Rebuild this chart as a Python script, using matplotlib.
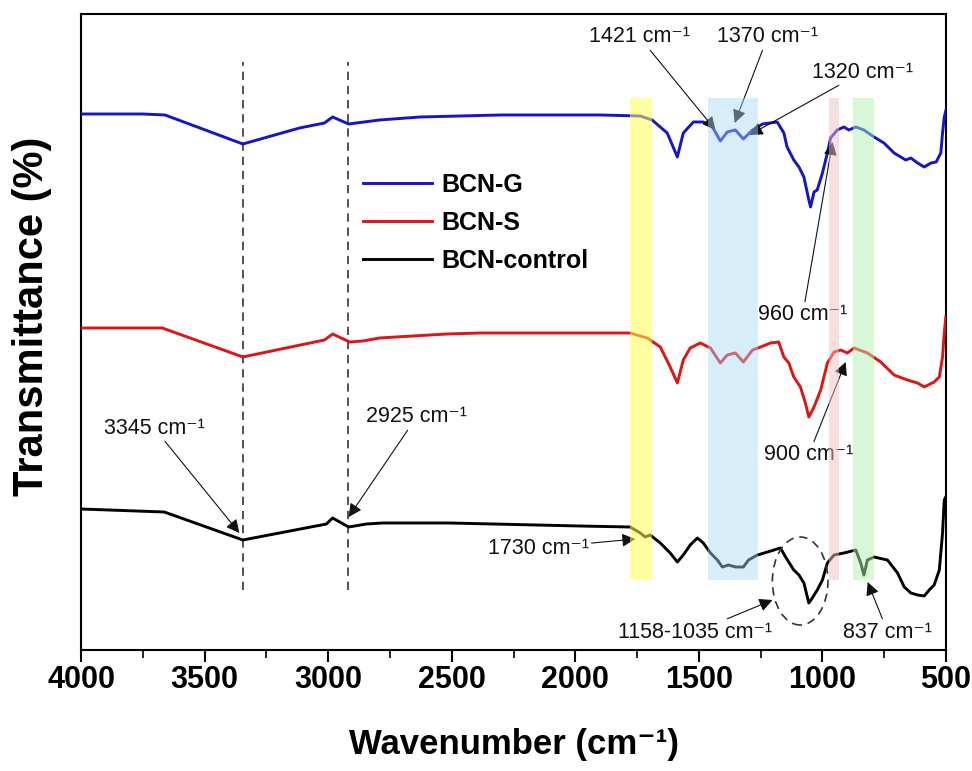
import matplotlib
matplotlib.use("Agg")
import matplotlib.pyplot as plt
from matplotlib.patches import Ellipse
import numpy as np

plt.rcParams['font.family'] = ['Liberation Sans', 'DejaVu Sans']

# ---------------- data (arbitrary transmittance units) ----------------
wn_g = [4000, 3750, 3660, 3345, 3116, 3015, 2982, 2917, 2792, 2629, 2305, 1900, 1737, 1689,
        1628, 1587, 1563, 1522, 1482, 1445, 1413, 1385, 1352, 1320, 1283, 1242, 1183, 1156,
        1143, 1116, 1095, 1075, 1055, 1048, 1034, 1021, 1000, 980, 967, 940, 913, 893, 865,
        832, 791, 751, 710, 683, 663, 642, 615, 588, 561, 540, 521, 514, 507, 500]
t_g = [536, 536, 535, 506, 522, 527, 533, 526, 530, 533, 535, 535, 534, 530,
       517, 493, 517, 528, 528, 523, 509, 518, 520, 511, 520, 526, 528, 517,
       503, 490, 483, 473, 450, 443, 458, 460, 477, 497, 512, 520, 523, 520, 523,
       520, 513, 507, 497, 493, 490, 492, 487, 483, 487, 488, 497, 517, 533, 540]

wn_s = [4000, 3671, 3345, 3015, 2982, 2913, 2860, 2792, 2658, 2520, 2386, 1778, 1709, 1656,
        1616, 1587, 1563, 1535, 1494, 1453, 1413, 1385, 1352, 1320, 1283, 1250, 1210, 1177,
        1156, 1136, 1116, 1089, 1069, 1055, 1034, 1007, 980, 953, 926, 899, 872, 818, 764,
        710, 656, 615, 588, 548, 527, 514, 507, 501]
t_s = [322, 322, 293, 310, 316, 308, 309, 312, 314, 316, 317, 317, 312, 303,
       283, 267, 290, 302, 307, 302, 287, 295, 297, 288, 300, 303, 307, 308,
       293, 287, 273, 263, 247, 233, 243, 260, 287, 298, 300, 297, 302, 297, 288,
       275, 270, 267, 263, 268, 273, 293, 317, 333]

wn_c = [4000, 3663, 3345, 3007, 2982, 2917, 2845, 2780, 2508, 1981, 1778, 1737, 1717, 1697,
        1656, 1616, 1587, 1563, 1535, 1506, 1482, 1453, 1425, 1405, 1380, 1352, 1320, 1299,
        1263, 1222, 1170, 1149, 1116, 1095, 1075, 1055, 1041, 1021, 1000, 980, 953, 913, 865,
        845, 832, 818, 791, 737, 696, 669, 642, 615, 588, 568, 548, 527, 514, 507, 501]
t_c = [141, 138, 110, 126, 132, 123, 126, 127, 127, 124, 123, 117, 113, 115,
       107, 97, 88, 95, 105, 112, 107, 97, 90, 83, 85, 83, 83, 90,
       95, 98, 102, 93, 80, 75, 67, 47, 52, 60, 70, 87, 95, 97, 100,
       87, 75, 90, 93, 90, 77, 63, 57, 55, 54, 60, 65, 80, 117, 150, 153]

series_names = ["BCN-G", "BCN-S", "BCN-control"]
series_colors = ["#1515c8", "#dd1515", "#000000"]

bands = [(1778, 1689, "#ffff55", 0.55),
         (1462, 1259, "#a8d8f5", 0.45),
         (975, 934, "#f2c0c0", 0.5),
         (878, 792, "#b0f0b0", 0.5)]

xticks = [4000, 3500, 3000, 2500, 2000, 1500, 1000, 500]

# ---------------- figure ----------------
fig = plt.figure(figsize=(9.72, 7.71), dpi=100)
ax = fig.add_axes([81/972, 121/771, 865/972, 636/771])

for wn, t, name, col in zip([wn_g, wn_s, wn_c], [t_g, t_s, t_c], series_names, series_colors):
    ax.plot(wn, t, color=col, lw=2.1, label=name, zorder=3)

for x0, x1, c, a in bands:
    ax.fill_between([x1, x0], [70, 70], [552, 552], color=c, alpha=a, lw=0, zorder=4)

for xv in [3345, 2920]:
    ax.plot([xv, xv], [60, 588], color="#333333", lw=1.2, ls=(0, (5, 3.5)), zorder=2)
ax.set_ylim(0, 636)
ax.set_xlim(4000, 500)

ell = Ellipse((1090, 69), width=225, height=88, fill=False, ls=(0, (5, 3.5)),
              lw=1.2, edgecolor="#333333", zorder=5)
ax.add_patch(ell)

ann_kw = dict(fontsize=15.5, color="#111111", ha="center", va="center",
              arrowprops=dict(arrowstyle="-|>", color="#111111", lw=0.8,
                              mutation_scale=20, shrinkA=0, shrinkB=0))
ann = [("1421 cm⁻¹", (1433, 520), (1741, 613)),
       ("1370 cm⁻¹", (1355, 527), (1222, 613)),
       ("1320 cm⁻¹", (1295, 515), (837, 578)),
       ("960 cm⁻¹", (959, 508), (1080, 335)),
       ("900 cm⁻¹", (906, 288), (1056, 195)),
       ("3345 cm⁻¹", (3359, 117), (3704, 222)),
       ("2925 cm⁻¹", (2917, 133), (2642, 233)),
       ("1730 cm⁻¹", (1757, 111), (2150, 102)),
       ("1158-1035 cm⁻¹", (1202, 50), (1514, 18)),
       ("837 cm⁻¹", (817, 68), (736, 18))]
for txt, xy, xyt in ann:
    ax.annotate(txt, xy=xy, xytext=xyt, **ann_kw)

leg = ax.legend(loc="upper left", bbox_to_anchor=(0.2996, 0.786), frameon=False,
                prop=dict(weight="bold", size=18), handlelength=2.76, labelspacing=0.57,
                handletextpad=0.4)

ax.set_yticks([])
ax.set_xticks(xticks)
ax.set_xticks(np.arange(500, 4001, 250), minor=True)
ax.tick_params(axis="x", which="major", direction="out", length=8.5, width=1.5,
               labelsize=22, pad=2)
ax.tick_params(axis="x", which="minor", direction="out", length=5.5, width=1.2)
for lab in ax.get_xticklabels():
    lab.set_fontweight("bold")
for sp in ax.spines.values():
    sp.set_linewidth(1.5)

ax.set_xlabel("Wavenumber (cm⁻¹)", fontsize=25, fontweight="bold", labelpad=24)
ax.set_ylabel("Transmittance (%)", fontsize=30, fontweight="bold")
ax.yaxis.set_label_coords(-0.034, 0.524)

fig.savefig("out.png", dpi=100)
